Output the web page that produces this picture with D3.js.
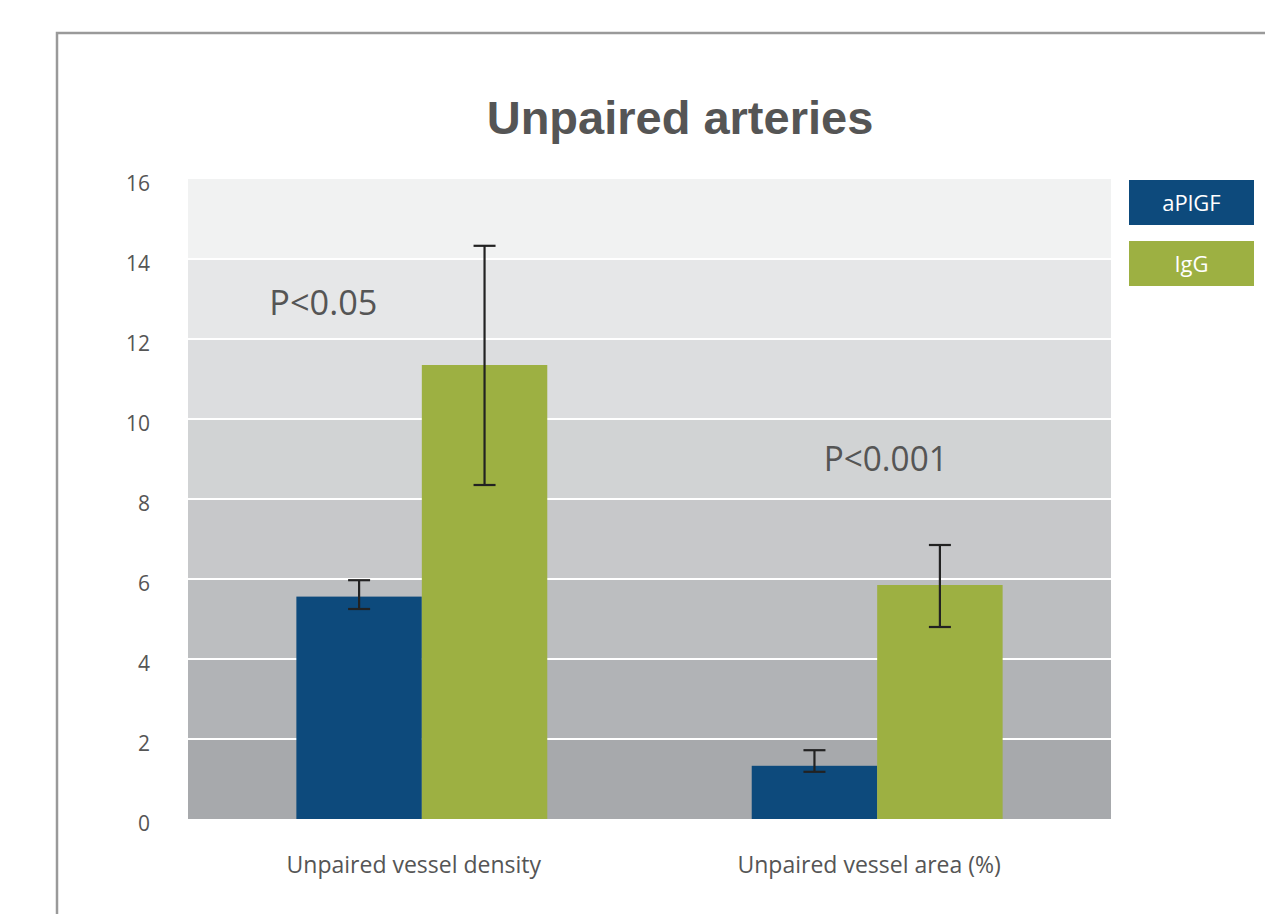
<!DOCTYPE html>
<html>
<head>
<meta charset="utf-8">
<script src="https://cdn.jsdelivr.net/npm/d3@7"></script>
<style>
  html, body { margin: 0; padding: 0; background: #fff; }
  svg { display: block; }
</style>
</head>
<body>
<svg id="chart" width="1265" height="914"></svg>
<script>
// Chart data
const categories = ["Unpaired vessel density", "Unpaired vessel area (%)"];
const seriesNames = ["aPlGF", "IgG"];
const aPlGFValues = [5.56, 1.33];
const aPlGFErrLow = [5.25, 1.18];
const aPlGFErrHigh = [5.97, 1.72];
const IgGValues = [11.35, 5.85];
const IgGErrLow = [8.35, 4.8];
const IgGErrHigh = [14.33, 6.85];
const yTicks = [0, 2, 4, 6, 8, 10, 12, 14, 16];
const pLabels = ["P<0.05", "P<0.001"];
const pLabelValues = [12.6, 8.7];

const colors = { aPlGF: "#0d4a7c", IgG: "#9db042" };
const bandFills = ["#a7a9ac", "#b1b3b6", "#bcbec0", "#c7c8ca", "#d1d3d4", "#dcdddf", "#e6e7e8", "#f1f2f2"];
const textColor = "#555555";
const bodyFont = "'Open Sans', 'Noto Sans', sans-serif";

const svg = d3.select("#chart");

// outer frame
svg.append("path")
  .attr("d", "M57,920 L57,33 L1270,33")
  .attr("fill", "none")
  .attr("stroke", "#9a9a9a")
  .attr("stroke-width", 2.5);

const plot = { left: 188, right: 1111, top: 179, bottom: 819 };

const y = d3.scaleLinear().domain([0, 16]).range([plot.bottom, plot.top]);
const x0 = d3.scaleBand().domain(categories)
  .range([plot.left, plot.right])
  .paddingInner(0.449).paddingOuter(0.238);
const x1 = d3.scaleBand().domain(seriesNames).range([0, x0.bandwidth()]);

// shaded background bands
const bands = d3.range(yTicks.length - 1).map(i => ({ lo: yTicks[i], hi: yTicks[i + 1], fill: bandFills[i] }));
svg.append("g").selectAll("rect").data(bands).join("rect")
  .attr("x", plot.left)
  .attr("width", plot.right - plot.left)
  .attr("y", d => y(d.hi))
  .attr("height", d => y(d.lo) - y(d.hi))
  .attr("fill", d => d.fill);

// white gridlines
svg.append("g").selectAll("line").data(yTicks.slice(1, -1)).join("line")
  .attr("x1", plot.left).attr("x2", plot.right)
  .attr("y1", d => y(d)).attr("y2", d => y(d))
  .attr("stroke", "#ffffff").attr("stroke-width", 2);

// y axis labels
const yAxis = d3.axisLeft(y).tickValues(yTicks).tickSize(0).tickPadding(0);
const yg = svg.append("g").attr("transform", `translate(${plot.left - 38},0)`).call(yAxis);
yg.select(".domain").remove();
yg.selectAll("text")
  .attr("fill", textColor)
  .style("font-family", bodyFont)
  .style("font-size", "21px")
  .attr("dy", "0.55em");

// bars
const rows = categories.map((c, i) => ({
  cat: c,
  items: [
    { key: "aPlGF", v: aPlGFValues[i], lo: aPlGFErrLow[i], hi: aPlGFErrHigh[i] },
    { key: "IgG", v: IgGValues[i], lo: IgGErrLow[i], hi: IgGErrHigh[i] }
  ]
}));

const groups = svg.append("g").selectAll("g").data(rows).join("g")
  .attr("transform", d => `translate(${x0(d.cat)},0)`);

groups.selectAll("rect").data(d => d.items).join("rect")
  .attr("x", d => x1(d.key))
  .attr("width", x1.bandwidth())
  .attr("y", d => y(d.v))
  .attr("height", d => y(0) - y(d.v))
  .attr("fill", d => colors[d.key]);

// error bars
const capHalf = 11;
const eb = groups.selectAll("g.err").data(d => d.items).join("g").attr("class", "err")
  .attr("stroke", "#222").attr("stroke-width", 2.2);
eb.append("line")
  .attr("x1", d => x1(d.key) + x1.bandwidth() / 2)
  .attr("x2", d => x1(d.key) + x1.bandwidth() / 2)
  .attr("y1", d => y(d.lo)).attr("y2", d => y(d.hi));
eb.append("line")
  .attr("x1", d => x1(d.key) + x1.bandwidth() / 2 - capHalf)
  .attr("x2", d => x1(d.key) + x1.bandwidth() / 2 + capHalf)
  .attr("y1", d => y(d.hi)).attr("y2", d => y(d.hi));
eb.append("line")
  .attr("x1", d => x1(d.key) + x1.bandwidth() / 2 - capHalf)
  .attr("x2", d => x1(d.key) + x1.bandwidth() / 2 + capHalf)
  .attr("y1", d => y(d.lo)).attr("y2", d => y(d.lo));

// significance labels
svg.append("g").selectAll("text").data(pLabels).join("text")
  .attr("x", (d, i) => x0(categories[i]) + (i === 0 ? -27 : 72))
  .attr("y", (d, i) => y(pLabelValues[i]))
  .attr("fill", textColor)
  .style("font-family", bodyFont)
  .style("font-size", "34px")
  .attr("textLength", (d, i) => (i === 0 ? 108 : 124))
  .attr("lengthAdjust", "spacingAndGlyphs")
  .text(d => d);

// category labels
svg.append("g").selectAll("text").data(categories).join("text")
  .attr("x", d => x0(d) + x0.bandwidth() / 2 - 8)
  .attr("y", 873)
  .attr("text-anchor", "middle")
  .attr("fill", textColor)
  .style("font-family", bodyFont)
  .style("font-size", "23px")
  .text(d => d);

// title
svg.append("text")
  .attr("x", 680).attr("y", 134)
  .attr("text-anchor", "middle")
  .attr("fill", "#555")
  .style("font-family", "'Liberation Sans', Arial, sans-serif")
  .style("font-weight", "bold")
  .style("font-size", "47px")
  .text("Unpaired arteries");

// legend
const legend = svg.append("g").selectAll("g").data(seriesNames).join("g")
  .attr("transform", (d, i) => `translate(1129,${180 + i * 61})`);
legend.append("rect")
  .attr("width", 125).attr("height", 45)
  .attr("fill", d => colors[d]);
legend.append("text")
  .attr("x", 62.5).attr("y", 23)
  .attr("dy", "0.35em")
  .attr("text-anchor", "middle")
  .attr("fill", "#fff")
  .style("font-family", bodyFont)
  .style("font-size", "22px")
  .text(d => d);
</script>
</body>
</html>
